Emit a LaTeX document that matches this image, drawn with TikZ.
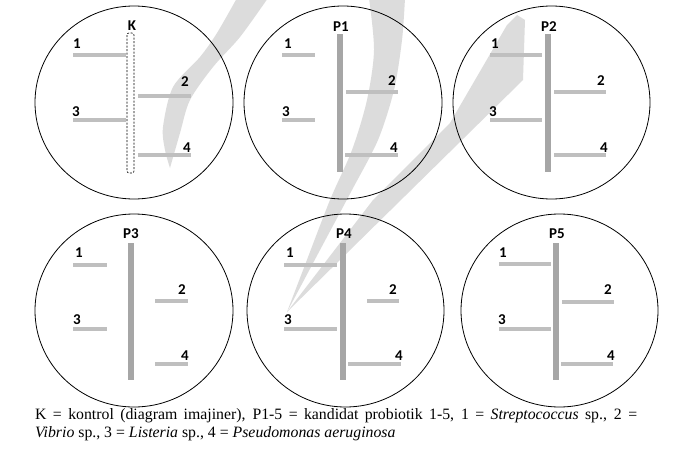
\documentclass[tikz,border=0pt]{standalone}
\usepackage{fontspec}
\setmainfont{Liberation Serif}
\setsansfont{Carlito}
\definecolor{wm}{RGB}{220,220,220}
\definecolor{hbarc}{RGB}{191,191,191}
\definecolor{vbarc}{RGB}{166,166,166}
\tikzset{
  plate/.style={draw=black, line width=0.8pt},
  hbar/.style={draw=hbarc, line width=4pt},
  vbar/.style={draw=vbarc, line width=6pt},
  lab/.style={font=\sffamily\bfseries\fontsize{15}{15}\selectfont, anchor=base, inner sep=0pt},
  ctrl/.style={draw=black, line width=0.6pt, dash pattern=on 2pt off 1.5pt, rounded corners=2pt},
}
\begin{document}
\begin{tikzpicture}[x=1pt,y=-1pt]
\useasboundingbox (0,0) rectangle (688,455);
\fill[white] (0,0) rectangle (688,455);
% watermark
\fill[wm] plot[smooth] coordinates {(237,-2) (217,33) (200,57) (173,87) (163,127) (165,150) (170,168)}
  -- plot[smooth] coordinates {(170,168) (180,133) (190,100) (213,67) (240,37) (268,-2)} -- cycle;
\fill[wm] plot[smooth] coordinates {(369,-2) (374,50) (367,100) (352,150) (330,200) (305,265) (287,312)}
  -- plot[smooth] coordinates {(287,312) (320,250) (352,190) (378,140) (394,90) (402,40) (405,-2)} -- cycle;
\fill[wm] (517,15) -- (525,20) -- (523,80) -- (287,312) -- (373,200) -- (450,123) -- (507,25) -- cycle;

% plates
\draw[plate] (134,102.5) ellipse[x radius=99, y radius=96.5];
\draw[plate] (343,102.5) ellipse[x radius=99, y radius=96.5];
\draw[plate] (551.5,102.5) ellipse[x radius=98.5, y radius=96.5];
\draw[plate] (134,310.5) ellipse[x radius=99, y radius=96.5];
\draw[plate] (345.5,310.5) ellipse[x radius=98.5, y radius=96.5];
\draw[plate] (559.5,310.5) ellipse[x radius=98.5, y radius=96.5];

% K
\draw[ctrl] (127,33) rectangle (134,173);
\draw[hbar] (73,55) -- (126,55);
\draw[hbar] (138,96) -- (191,96);
\draw[hbar] (73,120) -- (126,120);
\draw[hbar] (138,155) -- (191,155);
\node[lab] (tK) at (132,30) {K};
\node[lab] (k1) at (77,48) {1};
\node[lab] (k2) at (185,86) {2};
\node[lab] (k3) at (76,116) {3};
\node[lab] (k4) at (187,152) {4};

% P1
\draw[vbar] (340,34) -- (340,172);
\draw[hbar] (282,55) -- (315,55);
\draw[hbar] (346,92) -- (398,92);
\draw[hbar] (282,120) -- (315,120);
\draw[hbar] (345,155) -- (398,155);
\node[lab] (tP1) at (341,31) {P1};
\node[lab] (a1) at (288,48) {1};
\node[lab] (a2) at (392,85) {2};
\node[lab] (a3) at (286,116) {3};
\node[lab] (a4) at (394,152) {4};

% P2
\draw[vbar] (548,34) -- (548,172);
\draw[hbar] (490,55) -- (542,55);
\draw[hbar] (554,92) -- (606,92);
\draw[hbar] (490,120) -- (542,120);
\draw[hbar] (554,155) -- (606,155);
\node[lab] (tP2) at (549,31) {P2};
\node[lab] (b1) at (495,48) {1};
\node[lab] (b2) at (601,85) {2};
\node[lab] (b3) at (493,116) {3};
\node[lab] (b4) at (604,152) {4};

% P3
\draw[vbar] (131,243) -- (131,380);
\draw[hbar] (73,265) -- (107,265);
\draw[hbar] (155,301) -- (188,301);
\draw[hbar] (73,329) -- (107,329);
\draw[hbar] (155,364) -- (188,364);
\node[lab] (tP3) at (131,238) {P3};
\node[lab] (c1) at (79,257) {1};
\node[lab] (c2) at (182,294) {2};
\node[lab] (c3) at (77,324) {3};
\node[lab] (c4) at (185,360) {4};

% P4
\draw[vbar] (343,243) -- (343,380);
\draw[hbar] (284,265) -- (337,265);
\draw[hbar] (367,301) -- (399,301);
\draw[hbar] (284,329) -- (337,329);
\draw[hbar] (348,364) -- (401,364);
\node[lab] (tP4) at (344,238) {P4};
\node[lab] (d1) at (290,257) {1};
\node[lab] (d2) at (393,294) {2};
\node[lab] (d3) at (288,324) {3};
\node[lab] (d4) at (399,360) {4};

% P5
\draw[vbar] (556,243) -- (556,380);
\draw[hbar] (499,264) -- (551,264);
\draw[hbar] (562,302) -- (614,302);
\draw[hbar] (499,329) -- (551,329);
\draw[hbar] (561,364) -- (613,364);
\node[lab] (tP5) at (557,238) {P5};
\node[lab] (e1) at (503,257) {1};
\node[lab] (e2) at (608,294) {2};
\node[lab] (e3) at (502,324) {3};
\node[lab] (e4) at (611,360) {4};

% caption
\node[anchor=base west, inner sep=0pt, text width=602pt, align=justify,
      font=\fontsize{15.8}{18}\selectfont] (cap) at (35,419)
  {K = kontrol (diagram imajiner), P1-5 = kandidat probiotik 1-5, 1 = \textit{Streptococcus} sp., 2 =\linebreak \textit{Vibrio} sp., 3 = \textit{Listeria} sp., 4 = \textit{Pseudomonas aeruginosa}};
\end{tikzpicture}
\end{document}
